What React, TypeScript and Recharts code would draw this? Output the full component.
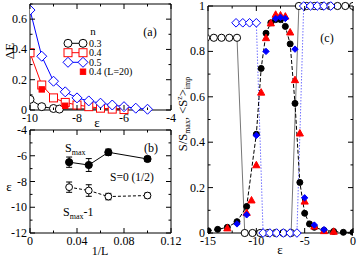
import React from 'react';
import { ComposedChart, Line, XAxis, YAxis, ErrorBar } from 'recharts';

const SERIF = '"Liberation Serif", "DejaVu Serif", serif';
const BLUE = '#0000ff';
const RED = '#ff0000';

// ---- panel (a): gap vs epsilon, several fillings n
const epsN03 = [-10, -9.5, -9, -8.75, -6];
const gapN03 = [0.07, 0.022, 0.01, 0.006, 0.008];
const epsN04 = [-10, -9.5, -9, -8.5, -8, -7.5, -7, -6.5, -6];
const gapN04 = [0.378, 0.165, 0.08, 0.05, 0.033, 0.022, 0.012, 0.006, 0.003];
const epsN05 = [-10, -9.5, -9, -8.5, -8, -7.5, -7, -6.5, -6, -5.5, -5];
const gapN05 = [0.66, 0.355, 0.19, 0.12, 0.08, 0.06, 0.045, 0.033, 0.022, 0.012, 0.005];
const epsN04L20 = [-9.5, -8.5];
const gapN04L20 = [0.136, 0.028];

// ---- panel (b): epsilon of S_max / S_max-1 vs 1/L
const invL = [0.0333, 0.05, 0.0667, 0.1];
const epsSmax = [-6.5, -6.72, -5.73, -6.25];
const errSmax = [0.4, 0.5, 0.25, 0.2];
const epsSmax1 = [-8.44, -8.7, -9.17, -9.09];
const errSmax1 = [0.4, 0.45, 0.25, 0.2];

// ---- panel (c): S/S_max and <S^z>_imp vs epsilon
const epsBlack = [-15, -14, -13, -12, -11, -10, -9.5, -9, -8.5, -8, -7.5, -7, -6.5, -6, -5.5, -5, -4.5, -4, -3, -2, -1, 0];
const valBlack = [0.01, 0.016, 0.025, 0.05, 0.117, 0.435, 0.725, 0.88, 0.926, 0.94, 0.94, 0.91, 0.833, 0.571, 0.223, 0.087, 0.04, 0.025, 0.012, 0.007, 0.003, 0.003];
const epsRed = [-13, -11, -10.5, -10, -9.5, -9, -8.5, -8, -7.5, -7, -6.5, -6, -5.5, -5, -4, -3, -2];
const valRed = [0.022, 0.09, 0.145, 0.3, 0.62, 0.86, 0.925, 0.963, 0.96, 0.955, 0.885, 0.675, 0.44, 0.14, 0.03, 0.01, 0.007];
const epsBlue = [-12, -11, -10, -9, -8, -7.5, -7, -6, -5, -4, -3];
const valBlue = [0.04, 0.08, 0.43, 0.8, 0.945, 0.95, 0.945, 0.81, 0.155, 0.035, 0.015];
const epsStepO = [-15.2, -14.4, -13.6, -12.8, -12, -11.2, -10.4, -9.6, -8.8, -8, -7.2, -6.4, -5.6, -4.8, -4, -3.2, -2.4, -1.6, -0.8, 0];
const valStepO = [0.86, 0.86, 0.86, 0.86, 0.86, 0, 0, 0, 0, 0, 0, 0, 1, 1, 1, 1, 1, 1, 1, 1];
const epsStepD = [-12.1, -11.4, -10.7, -10, -9.3, -8.6, -7.9, -7.2, -6.5, -5.8, -5.1, -4.4, -3.7, -3, -2.3];
const valStepD = [0.926, 0.926, 0.926, 0.926, 0, 0, 0, 0, 0, 0, 1, 1, 1, 1, 1];

// ticks
const xTicksA = [-10, -9, -8, -7, -6, -5, -4];
const xMajA = [-10, -8, -6, -4];
const yTicksA = [0, 0.1, 0.2, 0.3, 0.4, 0.5, 0.6, 0.7];
const yMajA = [0, 0.2, 0.4, 0.6];
const xTicksB = [0, 0.02, 0.04, 0.06, 0.08, 0.1, 0.12];
const xMajB = [0, 0.04, 0.08, 0.12];
const yTicksB = [-12, -11, -10, -9, -8, -7, -6, -5, -4];
const yMajB = [-12, -10, -8, -6, -4];
const xTicksC = [-15, -12.5, -10, -7.5, -5, -2.5, 0];
const xMajC = [-15, -10, -5, 0];
const yTicksC = [0, 0.1, 0.2, 0.3, 0.4, 0.5, 0.6, 0.7, 0.8, 0.9, 1];
const yMajC = [0, 0.2, 0.4, 0.6, 0.8, 1];

const zip = (xs: number[], ys: number[], es?: number[]) =>
  xs.map((x, i) => ({ x, y: ys[i], e: es ? es[i] : 0 }));

type Shape = 'circle' | 'square' | 'diamond' | 'triangle';

function mark(shape: Shape, cx: number, cy: number, s: number, stroke: string, fill: string, key?: any) {
  if (cx == null || cy == null || isNaN(cx) || isNaN(cy)) return <g key={key} />;
  if (shape === 'circle') return <circle key={key} cx={cx} cy={cy} r={s} stroke={stroke} fill={fill} strokeWidth={1} />;
  if (shape === 'square')
    return <rect key={key} x={cx - s} y={cy - s} width={2 * s} height={2 * s} stroke={stroke} fill={fill} strokeWidth={1} />;
  if (shape === 'diamond')
    return (
      <polygon key={key} points={`${cx},${cy - s} ${cx + s},${cy} ${cx},${cy + s} ${cx - s},${cy}`} stroke={stroke} fill={fill} strokeWidth={1} />
    );
  return (
    <polygon key={key} points={`${cx},${cy - s} ${cx + s},${cy + s * 0.8} ${cx - s},${cy + s * 0.8}`} stroke={stroke} fill={fill} strokeWidth={1} />
  );
}

const dotOf = (shape: Shape, s: number, stroke: string, fill: string) => (p: any) =>
  mark(shape, p.cx, p.cy, s, stroke, fill, p.index);

const near = (a: number, b: number) => Math.abs(a - b) < 1e-6;

// inward ticks, grace style
function tickOf(side: string, majors: number[], fmt?: (v: number) => string) {
  return (p: any) => {
    const { x, y, payload } = p;
    const v = payload.value;
    const major = majors.some((m) => near(m, v));
    const len = major ? 5 : 2.5;
    let ln = null;
    let tx = null;
    const ts = { fontSize: 12, fontFamily: SERIF, fill: '#000' };
    if (side === 'bottom') {
      ln = <line x1={x} y1={y} x2={x} y2={y - len} stroke="#000" />;
      if (fmt && major) tx = <text x={x} y={y + 12} textAnchor="middle" {...ts}>{fmt(v)}</text>;
    } else if (side === 'top') {
      ln = <line x1={x} y1={y} x2={x} y2={y + len} stroke="#000" />;
    } else if (side === 'left') {
      ln = <line x1={x} y1={y} x2={x + len} y2={y} stroke="#000" />;
      if (fmt && major) tx = <text x={x - 3} y={y + 4} textAnchor="end" {...ts}>{fmt(v)}</text>;
    } else {
      ln = <line x1={x} y1={y} x2={x - len} y2={y} stroke="#000" />;
    }
    return <g>{ln}{tx}</g>;
  };
}

const fmtPlain = (v: number) => String(v);
const fmt1 = (v: number) => (v === 0 ? '0' : v === 1 ? '1' : v.toFixed(1));
const fmt2 = (v: number) => (v === 0 ? '0' : v.toFixed(2));

// plot box given as left/top/right/bottom pixel edges; axes take 1px each
function Panel(props: any) {
  const { box, xDomain, yDomain, xTicks, yTicks, xMaj, yMaj, fmtX, fmtY, children } = props;
  const margin = { left: box[0] - 1, top: box[1] - 1, right: 357 - box[2] - 1, bottom: 258 - box[3] - 1 };
  const axisLine = { stroke: '#000', strokeWidth: 1 };
  return (
    <div style={{ position: 'absolute', left: 0, top: 0 }}>
      <ComposedChart width={357} height={258} margin={margin}>
        <XAxis xAxisId="b" type="number" dataKey="x" domain={xDomain} ticks={xTicks} interval={0} height={1}
          tickSize={0} tickMargin={0} tickLine={false} axisLine={axisLine} allowDataOverflow
          tick={tickOf('bottom', xMaj, fmtX)} />
        <XAxis xAxisId="t" orientation="top" type="number" dataKey="x" domain={xDomain} ticks={xTicks} interval={0} height={1}
          tickSize={0} tickMargin={0} tickLine={false} axisLine={axisLine} allowDataOverflow
          tick={tickOf('top', xMaj)} />
        <YAxis yAxisId="l" type="number" domain={yDomain} ticks={yTicks} interval={0} width={1}
          tickSize={0} tickMargin={0} tickLine={false} axisLine={axisLine}
          tick={tickOf('left', yMaj, fmtY)} />
        <YAxis yAxisId="r" orientation="right" type="number" domain={yDomain} ticks={yTicks} interval={0} width={1}
          tickSize={0} tickMargin={0} tickLine={false} axisLine={axisLine} allowDataOverflow
          tick={tickOf('right', yMaj)} />
        {children}
      </ComposedChart>
    </div>
  );
}

const common = { xAxisId: 'b', yAxisId: 'l', dataKey: 'y', type: 'linear' as const, activeDot: false, isAnimationActive: false };

export default function App() {
  const txt = { fontFamily: SERIF, fill: '#000' };
  return (
    <div style={{ position: 'absolute', left: 0, top: 0, width: 357, height: 258, background: '#fff' }}>
      {/* (a) */}
      <Panel box={[30, 4, 171, 110]} xDomain={[-10, -4]} yDomain={[0, 0.7]}
        xTicks={xTicksA} yTicks={yTicksA} xMaj={xMajA} yMaj={yMajA} fmtX={fmtPlain} fmtY={fmt1}>
        <Line {...common} data={zip(epsN03, gapN03)} stroke="#000" strokeWidth={1} dot={dotOf('circle', 4, '#000', '#fff')} />
        <Line {...common} data={zip(epsN04, gapN04)} stroke={RED} strokeWidth={1} dot={dotOf('square', 4, RED, '#fff')} />
        <Line {...common} data={zip(epsN05, gapN05)} stroke={BLUE} strokeWidth={1} dot={dotOf('diamond', 5, BLUE, '#fff')} />
        <Line {...common} data={zip(epsN04L20, gapN04L20)} stroke="none" dot={dotOf('square', 2.7, RED, RED)} />
      </Panel>

      {/* (b) */}
      <Panel box={[30, 130, 171, 233]} xDomain={[0, 0.12]} yDomain={[-12, -4]}
        xTicks={xTicksB} yTicks={yTicksB} xMaj={xMajB} yMaj={yMajB} fmtX={fmt2} fmtY={fmtPlain}>
        <Line {...common} data={zip(invL, epsSmax1, errSmax1)} stroke="#000" strokeWidth={1} strokeDasharray="3 2"
          dot={dotOf('circle', 3.4, '#000', '#fff')}>
          <ErrorBar dataKey="e" width={3} stroke="#000" strokeWidth={1} direction="y" />
        </Line>
        <Line {...common} data={zip(invL, epsSmax, errSmax)} stroke="#000" strokeWidth={1}
          dot={dotOf('circle', 3.6, '#000', '#000')}>
          <ErrorBar dataKey="e" width={3} stroke="#000" strokeWidth={1} direction="y" />
        </Line>
      </Panel>

      {/* (c) */}
      <Panel box={[208, 6, 353, 233]} xDomain={[-15, 0]} yDomain={[0, 1]}
        xTicks={xTicksC} yTicks={yTicksC} xMaj={xMajC} yMaj={yMajC} fmtX={fmtPlain} fmtY={fmt1}>
        <Line {...common} data={zip(epsStepO, valStepO)} stroke="#777" strokeWidth={1} dot={dotOf('circle', 3.6, '#000', '#fff')} />
        <Line {...common} data={zip(epsStepD, valStepD)} stroke="#7070ff" strokeWidth={1} strokeDasharray="1.5 1.5"
          dot={dotOf('diamond', 4.3, BLUE, '#fff')} />
        <Line {...common} data={zip(epsBlack, valBlack)} stroke="#000" strokeWidth={1} strokeDasharray="4 2"
          dot={dotOf('circle', 3, '#000', '#000')} />
        <Line {...common} data={zip(epsRed, valRed)} stroke="none" dot={dotOf('triangle', 3.6, RED, RED)} />
        <Line {...common} data={zip(epsBlue, valBlue)} stroke="none" dot={dotOf('diamond', 3.2, BLUE, BLUE)} />
      </Panel>

      <svg width={357} height={258} style={{ position: 'absolute', left: 0, top: 0, pointerEvents: 'none' }}>
        {/* panel (a) texts */}
        <text x={10} y={55} fontSize={13} transform="rotate(-90 10 51)" textAnchor="middle" {...txt}>ΔE</text>
        <text x={97} y={127} fontSize={13} textAnchor="middle" {...txt}>ε</text>
        <text x={150} y={36} fontSize={12} textAnchor="middle" {...txt}>(a)</text>
        <text x={93} y={35} fontSize={11} textAnchor="middle" {...txt}>n</text>
        <line x1={68} y1={43.3} x2={83} y2={43.3} stroke="#000" />
        {mark('circle', 68, 43.3, 4, '#000', '#fff')}
        {mark('circle', 83, 43.3, 4, '#000', '#fff')}
        <text x={89} y={46.8} fontSize={10} {...txt}>0.3</text>
        <line x1={68} y1={52.7} x2={83} y2={52.7} stroke={RED} />
        {mark('square', 68, 52.7, 4, RED, '#fff')}
        {mark('square', 83, 52.7, 4, RED, '#fff')}
        <text x={89} y={56.2} fontSize={10} {...txt}>0.4</text>
        <line x1={68} y1={62.3} x2={83} y2={62.3} stroke={BLUE} />
        {mark('diamond', 68, 62.3, 5, BLUE, '#fff')}
        {mark('diamond', 83, 62.3, 5, BLUE, '#fff')}
        <text x={89} y={65.8} fontSize={10} {...txt}>0.5</text>
        {mark('square', 83, 71.7, 2.7, RED, RED)}
        <text x={89} y={75.2} fontSize={10} {...txt}>0.4 (L=20)</text>

        {/* panel (b) texts */}
        <text x={9} y={191} fontSize={13} textAnchor="middle" {...txt}>ε</text>
        <text x={100} y={255} fontSize={12} textAnchor="middle" {...txt}>1/L</text>
        <text x={151} y={152} fontSize={12} textAnchor="middle" {...txt}>(b)</text>
        <text x={65} y={152} fontSize={12} {...txt}>S<tspan fontSize={8} dy={3}>max</tspan></text>
        <text x={110} y={181} fontSize={11.5} {...txt}>S=0 (1/2)</text>
        <text x={63} y={216} fontSize={12} {...txt}>S<tspan fontSize={8} dy={3}>max</tspan><tspan dy={-3}>-1</tspan></text>

        {/* panel (c) texts */}
        <text x={280} y={254} fontSize={13} textAnchor="middle" {...txt}>ε</text>
        <text x={327} y={42} fontSize={12} textAnchor="middle" {...txt}>(c)</text>
        <text transform="translate(187 114) rotate(-90)" fontSize={12.5} textAnchor="middle" {...txt}>
          S/S<tspan fontSize={8} dy={3}>max</tspan>
          <tspan dy={-3}>, &lt;S</tspan>
          <tspan fontSize={8} dy={-5}>z</tspan>
          <tspan dy={5}>&gt;</tspan>
          <tspan fontSize={8} dy={3}>imp</tspan>
        </text>
      </svg>
    </div>
  );
}
